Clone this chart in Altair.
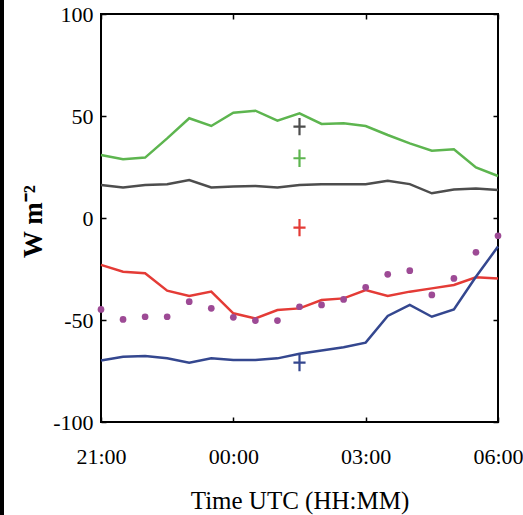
import altair as alt
import pandas as pd

# --- data ---
times = ["21:00", "21:30", "22:00", "22:30", "23:00", "23:30", "00:00", "00:30",
         "01:00", "01:30", "02:00", "02:30", "03:00", "03:30", "04:00", "04:30",
         "05:00", "05:30", "06:00"]
green = [30.9, 28.8, 29.6, 39.0, 48.9, 45.1, 51.6, 52.6, 47.7, 51.3,
         46.1, 46.4, 45.1, 40.7, 36.6, 33.0, 33.7, 24.8, 20.6]
gray = [16.2, 15.0, 16.2, 16.5, 18.6, 15.0, 15.4, 15.7, 14.9, 16.2,
        16.5, 16.5, 16.5, 18.3, 16.6, 12.1, 14.0, 14.5, 13.7]
red = [-23.0, -26.3, -27.1, -35.6, -38.2, -36.1, -46.7, -49.2, -45.1, -44.3,
       -40.2, -39.4, -35.3, -38.2, -36.1, -34.5, -32.8, -29.1, -29.6]
blue = [-69.9, -68.0, -67.6, -68.8, -70.9, -68.8, -69.6, -69.6, -68.8, -66.5,
        -65.0, -63.4, -61.1, -48.0, -42.6, -48.4, -44.8, -28.8, -14.0]
dots = [-44.8, -49.7, -48.4, -48.4, -41.0, -44.3, -48.7, -50.3, -50.3, -43.5,
        -42.6, -39.9, -34.0, -27.6, -25.8, -37.7, -29.6, -16.8, -8.7]

cross_time = "01:30"
cross_series = ["gray", "green", "red", "blue"]
cross_values = [44.8, 29.3, -4.7, -70.9]

x_tick_labels = ["21:00", "00:00", "03:00", "06:00"]
y_ticks = [-100, -50, 0, 50, 100]

colors = {"green": "#5db54f", "gray": "#4d4d4d", "red": "#e43b36",
          "blue": "#34478f", "dots": "#9d4a95"}


def hours(t):
    h, m = map(int, t.split(":"))
    v = h + m / 60.0
    return v - 21 if v >= 21 else v + 3


rows = []
for name, vals in [("green", green), ("gray", gray), ("red", red), ("blue", blue)]:
    for t, v in zip(times, vals):
        rows.append({"series": name, "time": t, "h": hours(t), "value": v})
lines_df = pd.DataFrame(rows)
dots_df = pd.DataFrame({"time": times, "h": [hours(t) for t in times], "value": dots})
cross_df = pd.DataFrame({"series": cross_series,
                         "h": [hours(cross_time)] * len(cross_series),
                         "value": cross_values})

FONT = "Liberation Serif"
W, H = 397, 408
xscale = alt.Scale(domain=[0, 9], nice=False, zero=False)
yscale = alt.Scale(domain=[-100, 100], nice=False, zero=False)
color_scale = alt.Scale(domain=list(colors.keys()), range=list(colors.values()))

label_expr = "[" + ",".join("'%s'" % s for s in x_tick_labels) + "][round(datum.value/3)]"

x_bottom = alt.X("h:Q", scale=xscale, axis=alt.Axis(
    orient="bottom", values=[0, 3, 6, 9], labelExpr=label_expr, domain=False,
    grid=False, tickSize=5, offset=-5, tickColor="black", tickWidth=1.5,
    labelFont=FONT, labelFontSize=22, labelColor="black", labelPadding=24,
    labelOverlap=False, labelFlush=False,
    title="Time UTC (HH:MM)", titleFont=FONT, titleFontSize=25,
    titleFontWeight="normal", titleColor="black", titleY=91,
    titleBaseline="alphabetic"))
y_left = alt.Y("value:Q", scale=yscale, axis=alt.Axis(
    orient="left", values=y_ticks, labelExpr="'' + datum.value", domain=False,
    grid=False, tickSize=5,
    offset=-5, tickColor="black", tickWidth=1.5, labelFont=FONT,
    labelFontSize=22, labelColor="black", labelPadding=8, labelOverlap=False,
    labelFlush=False, title="W m⁻²", titleFont=FONT, titleFontSize=27,
    titleFontWeight="bold", titleColor="black", titleX=-73, titleY=207,
    titleAngle=270, titleAlign="center", titleBaseline="middle"))

x_top = alt.X("h:Q", scale=xscale, axis=alt.Axis(
    orient="top", values=[0, 3, 6, 9], domain=False, grid=False, labels=False,
    tickSize=5, offset=-5, tickColor="black", tickWidth=1.5, title=None))
y_right = alt.Y("value:Q", scale=yscale, axis=alt.Axis(
    orient="right", values=y_ticks, domain=False, grid=False, labels=False,
    tickSize=5, offset=-5, tickColor="black", tickWidth=1.5, title=None))

lines = alt.Chart(lines_df).mark_line(strokeWidth=2.5).encode(
    x=x_bottom, y=y_left,
    color=alt.Color("series:N", scale=color_scale, legend=None),
    detail="series:N")

points = alt.Chart(dots_df).mark_point(filled=True, size=45, opacity=1,
                                       color=colors["dots"], shape="circle").encode(
    x=alt.X("h:Q", scale=xscale, axis=None),
    y=alt.Y("value:Q", scale=yscale, axis=None))

crosses = alt.Chart(cross_df).mark_point(
    shape="M-0.7,0L0.7,0M0,-1L0,1", size=300, strokeWidth=2.2, filled=False,
    opacity=1).encode(
    x=x_top, y=y_right,
    stroke=alt.Color("series:N", scale=color_scale, legend=None))

# dark strip along the left edge of the reference image (decoration)
edge = alt.Chart(cross_df.head(1)).mark_rect(
    color="black", x=-101, x2=-97, y=-14, y2=501).encode(opacity=alt.value(1))

chart = alt.layer(lines, points, crosses, edge).resolve_axis(
    x="independent", y="independent").properties(
    width=W, height=H,
    autosize=alt.AutoSizeParams(type="none"),
    padding={"left": 101, "top": 14, "right": 25, "bottom": 93},
    background="white",
).configure_view(stroke="black", strokeWidth=2)

chart.save("out.html", embed_options={"renderer": "svg", "actions": False})
